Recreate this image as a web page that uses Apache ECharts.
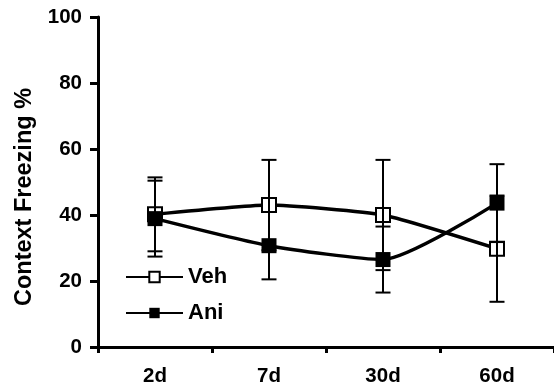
<!DOCTYPE html>
<html>
<head>
<meta charset="utf-8">
<script src="https://cdn.jsdelivr.net/npm/echarts@6/dist/echarts.min.js"></script>
<style>
  html, body { margin: 0; padding: 0; background: #fff; }
  #chart { width: 554px; height: 389px; }
</style>
</head>
<body>
<div id="chart"></div>
<script>
// Time points after training
const categories = ['2d', '7d', '30d', '60d'];

// Mean context freezing (%) per group
const vehMeans = [40.2, 43.0, 40.0, 29.8];
const aniMeans = [38.9, 30.7, 26.5, 43.6];

// Error bar half-widths (%)
const vehErrors = [11.2, 13.7, 16.7, 16.1];
const aniErrors = [11.5, 10.2, 10.0, 11.8];

// Y axis ticks
const yTicks = [0, 20, 40, 60, 80, 100];

const FONT = '"Liberation Sans", Arial, sans-serif';

function errorData(means, errs) {
  return means.map((m, i) => [i, m - errs[i], m + errs[i]]);
}

function renderErrorBar(params, api) {
  const i = api.value(0);
  const lo = api.coord([i, api.value(1)]);
  const hi = api.coord([i, api.value(2)]);
  const half = 7.5;
  const style = { stroke: '#000', lineWidth: 2, fill: null };
  return {
    type: 'group',
    children: [
      { type: 'line', shape: { x1: hi[0], y1: hi[1], x2: lo[0], y2: lo[1] }, style: style },
      { type: 'line', shape: { x1: hi[0] - half, y1: hi[1], x2: hi[0] + half, y2: hi[1] }, style: style },
      { type: 'line', shape: { x1: lo[0] - half, y1: lo[1], x2: lo[0] + half, y2: lo[1] }, style: style }
    ]
  };
}

const chart = echarts.init(document.getElementById('chart'), null, { renderer: 'canvas' });

chart.setOption({
  animation: false,
  backgroundColor: '#fff',
  grid: { left: 98, top: 17, width: 463, height: 330, containLabel: false },
  legend: {
    orient: 'vertical',
    left: 125,
    top: 266,
    padding: 0,
    itemWidth: 57,
    itemHeight: 13,
    itemGap: 14,
    textStyle: { fontFamily: FONT, fontWeight: 'bold', fontSize: 22, color: '#000' },
    data: ['Veh', 'Ani']
  },
  graphic: [{
    type: 'text',
    x: 25,
    y: 197,
    rotation: Math.PI / 2,
    style: {
      text: 'Context Freezing %',
      fontFamily: FONT,
      fontWeight: 'bold',
      fontSize: 23.5,
      fill: '#000',
      textAlign: 'center',
      textVerticalAlign: 'middle'
    }
  }],
  xAxis: {
    type: 'category',
    data: categories,
    boundaryGap: true,
    axisLine: { lineStyle: { color: '#000', width: 3 } },
    axisTick: { show: true, length: 6, lineStyle: { color: '#000', width: 3 } },
    axisLabel: { margin: 19, fontFamily: FONT, fontWeight: 'bold', fontSize: 20.5, color: '#000' },
    splitLine: { show: false }
  },
  yAxis: {
    type: 'value',
    min: yTicks[0],
    max: yTicks[yTicks.length - 1],
    interval: yTicks[1] - yTicks[0],
    axisLine: { show: true, lineStyle: { color: '#000', width: 3 } },
    axisTick: { show: true, length: 8, lineStyle: { color: '#000', width: 3 } },
    axisLabel: { margin: 16, fontFamily: FONT, fontWeight: 'bold', fontSize: 20.5, color: '#000' },
    splitLine: { show: false }
  },
  series: [
    {
      name: 'Veh',
      type: 'line',
      data: vehMeans,
      smooth: 0.15,
      symbol: 'rect',
      symbolSize: 14,
      lineStyle: { color: '#000', width: 3.5 },
      itemStyle: { color: '#fff', borderColor: '#000', borderWidth: 2 },
      z: 2
    },
    {
      name: 'Ani',
      type: 'line',
      data: aniMeans,
      smooth: 0.2,
      symbol: 'rect',
      symbolSize: 15,
      lineStyle: { color: '#000', width: 3.5 },
      itemStyle: { color: '#000', borderColor: '#000', borderWidth: 0 },
      z: 2
    },
    {
      name: 'Veh error',
      type: 'custom',
      data: errorData(vehMeans, vehErrors),
      encode: { x: 0, y: [1, 2] },
      renderItem: renderErrorBar,
      z: 3,
      silent: true
    },
    {
      name: 'Ani error',
      type: 'custom',
      data: errorData(aniMeans, aniErrors),
      encode: { x: 0, y: [1, 2] },
      renderItem: renderErrorBar,
      z: 3,
      silent: true
    }
  ]
});
</script>
</body>
</html>
